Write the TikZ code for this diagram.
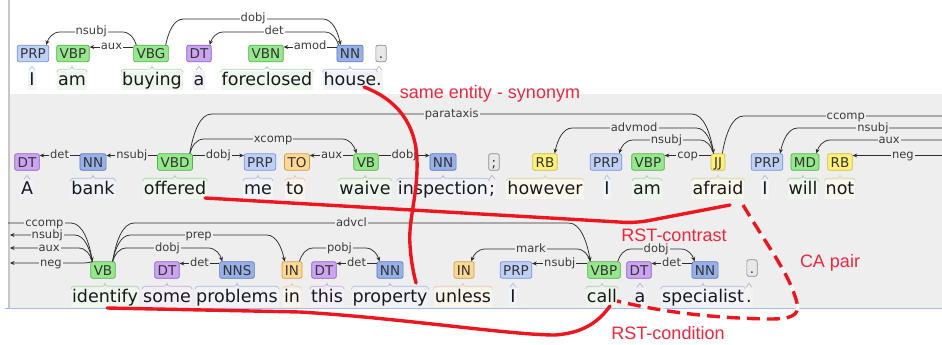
\documentclass[tikz,border=0pt]{standalone}
\usepackage{fontspec}
\setmainfont{DejaVu Sans}
\newfontfamily\annfont{Liberation Sans}
\usetikzlibrary{arrows.meta,calc}
\definecolor{bggray}{RGB}{238,238,238}
\definecolor{bluel}{RGB}{165,188,238}
\definecolor{arcc}{RGB}{45,45,45}
\definecolor{labc}{RGB}{60,60,60}
\definecolor{redl}{RGB}{238,22,30}
\definecolor{redt}{RGB}{236,40,62}
\definecolor{cBf}{RGB}{190,208,246}\definecolor{cBd}{RGB}{120,150,215}
\definecolor{cNf}{RGB}{150,176,232}\definecolor{cNd}{RGB}{95,120,195}
\definecolor{cGf}{RGB}{150,232,140}\definecolor{cGd}{RGB}{85,175,75}
\definecolor{cPf}{RGB}{204,164,242}\definecolor{cPd}{RGB}{140,95,195}
\definecolor{cOf}{RGB}{255,216,150}\definecolor{cOd}{RGB}{210,155,70}
\definecolor{cYf}{RGB}{255,240,120}\definecolor{cYd}{RGB}{200,190,80}
\definecolor{cKf}{RGB}{232,232,232}\definecolor{cKd}{RGB}{140,140,140}
\tikzset{
  tagbox/.style 2 args={draw=#2, fill=#1, rounded corners=2pt, line width=0.7pt,
    font=\fontsize{13.5}{14}\selectfont, text=black!80, inner xsep=3pt, inner ysep=0pt,
    minimum height=16.5pt, text height=10pt, text depth=0pt},
  tagB/.style={tagbox={cBf}{cBd}}, tagN/.style={tagbox={cNf}{cNd}},
  tagG/.style={tagbox={cGf}{cGd}}, tagP/.style={tagbox={cPf}{cPd}},
  tagO/.style={tagbox={cOf}{cOd}}, tagY/.style={tagbox={cYf}{cYd}},
  tagK/.style={tagbox={cKf}{cKd}},
  wordbox/.style={font=\fontsize{17.5}{20}\selectfont, anchor=base, inner xsep=1pt,
    inner ysep=1pt, text height=13pt, text depth=4pt, text=black!90, fill=#1!10!white},
  lab/.style={font=\fontsize{11.5}{12}\selectfont, text=labc, inner xsep=1pt, inner ysep=0pt,
    fill=#1, text height=8.5pt, text depth=2.5pt},
  lab/.default=white,
  arcl/.style={draw=arcc, line width=0.75pt, -{Stealth[length=4.5pt,width=4pt]}},
  redline/.style={draw=redl, line width=3.4pt, line cap=round},
  redtext/.style={font=\annfont\fontsize{18}{20}\selectfont, text=redt, inner sep=0pt},
}
\newcommand\harc[5][white]{%
  \draw[arcl] let \p1=(#2), \p2=(#3), \n3={sign(\x2-\x1)},
     \n1={\n3*(10+0.3*abs(\y1+#4pt))}, \n2={\n3*(10+0.3*abs(\y2+#4pt))} in
   (\p1) .. controls (\x1+0.15*\n1*1pt, 0.5*\y1-0.5*#4pt) and (\x1+0.45*\n1*1pt,-#4pt) ..
   (\x1+\n1*1pt,-#4pt) -- node[lab=#1]{#5}
   (\x2-\n2*1pt,-#4pt) .. controls (\x2-0.45*\n2*1pt,-#4pt) and (\x2-0.15*\n2*1pt, 0.5*\y2-0.5*#4pt) .. (\p2);}
\newcommand\sarcL[4][white]{\draw[arcl] ([yshift=6.5pt]#2.west) -- node[lab=#1]{#4} ([yshift=6.5pt]#3.east);}
\newcommand\sarcR[4][white]{\draw[arcl] ([yshift=6.5pt]#2.east) -- node[lab=#1]{#4} ([yshift=6.5pt]#3.west);}
\newcommand\brk[2]{\draw[#2, line width=0.7pt] ([yshift=-1.5pt]#1.north west) to[out=90,in=180]
  ([xshift=3pt,yshift=1.5pt]#1.north west) -- ([xshift=-3pt,yshift=1.5pt]#1.north)
  to[out=0,in=-90] ([yshift=4.5pt]#1.north) to[out=-90,in=180] ([xshift=3pt,yshift=1.5pt]#1.north)
  -- ([xshift=-3pt,yshift=1.5pt]#1.north east) to[out=0,in=90] ([yshift=-1.5pt]#1.north east);}
\newcommand\brs[2]{\draw[#2, line width=0.7pt] ([xshift=-3pt,yshift=0.5pt]#1.north)
  to[out=90,in=-90] ([yshift=4.5pt]#1.north) to[out=-90,in=90] ([xshift=3pt,yshift=0.5pt]#1.north);}
\begin{document}
\begin{tikzpicture}[x=1pt,y=-1pt]
\useasboundingbox (0,0) rectangle (942,345);
\clip (0,0) rectangle (942,345);
\fill[white] (0,0) rectangle (942,345);
\fill[bggray] (9,94) rectangle (942,308);
\draw[black!22, line width=1.5pt] (9,0) -- (9,308);
\draw[bluel, line width=1.5pt] (5,308.5) -- (942,308.5);
% ---------- row 1 words
\node[wordbox=cBd] (w1a) at (32,85) {I};
\node[wordbox=cGd] (w1b) at (72,85) {am};
\node[wordbox=cGd] (w1c) at (152,85) {buying};
\node[wordbox=cPd] (w1d) at (199,85) {a};
\node[wordbox=cGd] (w1e) at (267,85) {foreclosed};
\node[wordbox=cNd] (w1f) at (350,85) {house};
\node[wordbox=cKd] (w1g) at (379,85) {.};
\brs{w1a}{cBd!60!white}\brk{w1b}{cGd!50!white}\brk{w1c}{cGd!50!white}\brs{w1d}{cPd!50!white}
\brk{w1e}{cGd!50!white}\brk{w1f}{cNd!50!white}\brs{w1g}{cKd!60!white}
% ---------- row 1 tags
\node[tagB] (t1a) at (33,53.5) {PRP};
\node[tagG] (t1b) at (73,53.5) {VBP};
\node[tagG] (t1c) at (151,53.5) {VBG};
\node[tagP] (t1d) at (199,53.5) {DT};
\node[tagG] (t1e) at (266,53.5) {VBN};
\node[tagN] (t1f) at (350,53.5) {NN};
\node[tagK] (t1g) at (381,53.5) {.};
% ---------- row 2 words
\node[wordbox=cPd] (w2a) at (27,194) {A};
\node[wordbox=cNd] (w2b) at (93,194) {bank};
\node[wordbox=cGd] (w2c) at (175,194) {offered};
\node[wordbox=cBd] (w2d) at (258,194) {me};
\node[wordbox=cOd] (w2e) at (295,194) {to};
\node[wordbox=cGd] (w2f) at (365,194) {waive};
\node[wordbox=cNd] (w2g) at (443,194) {inspection};
\node[wordbox=cKd] (w2h) at (492,194) {;};
\node[wordbox=cYd] (w2i) at (545,194) {however};
\node[wordbox=cBd] (w2j) at (607,194) {I};
\node[wordbox=cGd] (w2k) at (647,194) {am};
\node[wordbox=cYd] (w2l) at (718,194) {afraid};
\node[wordbox=cBd] (w2m) at (765,194) {I};
\node[wordbox=cGd] (w2n) at (803,194) {will};
\node[wordbox=cYd] (w2o) at (840,194) {not};
\brs{w2a}{cPd!50!white}\brk{w2b}{cNd!50!white}\brk{w2c}{cGd!50!white}\brk{w2d}{cBd!60!white}
\brk{w2e}{cOd!50!white}\brk{w2f}{cGd!50!white}\brk{w2g}{cNd!50!white}\brs{w2h}{cKd!60!white}
\brk{w2i}{cYd!60!white}\brs{w2j}{cBd!60!white}\brk{w2k}{cGd!50!white}\brk{w2l}{cYd!60!white}
\brs{w2m}{cBd!60!white}\brk{w2n}{cGd!50!white}\brk{w2o}{cYd!60!white}
% ---------- row 2 tags
\node[tagP] (t2a) at (27,162) {DT};
\node[tagN] (t2b) at (93,162) {NN};
\node[tagG] (t2c) at (175,162) {VBD};
\node[tagB] (t2d) at (260,162) {PRP};
\node[tagO] (t2e) at (297,162) {TO};
\node[tagG] (t2f) at (366,162) {VB};
\node[tagN] (t2g) at (443,162) {NN};
\node[tagK] (t2h) at (494,162) {;};
\node[tagY] (t2i) at (545,162) {RB};
\node[tagB] (t2j) at (606,162) {PRP};
\node[tagG] (t2k) at (648,162) {VBP};
\node[tagY] (t2l) at (718,162) {JJ};
\node[tagB] (t2m) at (767,162) {PRP};
\node[tagG] (t2n) at (805,162) {MD};
\node[tagY] (t2o) at (840,162) {RB};
% ---------- row 3 words
\node[wordbox=cGd] (w3a) at (105,302) {identify};
\node[wordbox=cPd] (w3b) at (167,302) {some};
\node[wordbox=cNd] (w3c) at (237,302) {problems};
\node[wordbox=cOd] (w3d) at (292,302) {in};
\node[wordbox=cPd] (w3e) at (327,302) {this};
\node[wordbox=cNd] (w3f) at (390,302) {property};
\node[wordbox=cOd] (w3g) at (463,302) {unless};
\node[wordbox=cBd] (w3h) at (513,302) {I};
\node[wordbox=cGd] (w3i) at (602,302) {call};
\node[wordbox=cPd] (w3j) at (640,302) {a};
\node[wordbox=cNd] (w3k) at (703,302) {specialist};
\node[wordbox=cKd] (w3l) at (749,302) {.};
\brk{w3a}{cGd!50!white}\brk{w3b}{cPd!50!white}\brk{w3c}{cNd!50!white}\brk{w3d}{cOd!50!white}
\brk{w3e}{cPd!50!white}\brk{w3f}{cNd!50!white}\brk{w3g}{cOd!50!white}\brs{w3h}{cBd!60!white}
\brk{w3i}{cGd!50!white}\brs{w3j}{cPd!50!white}\brk{w3k}{cNd!50!white}\brs{w3l}{cKd!60!white}
% ---------- row 3 tags
\node[tagG] (t3a) at (103,270) {VB};
\node[tagP] (t3b) at (167,270) {DT};
\node[tagN] (t3c) at (237,270) {NNS};
\node[tagO] (t3d) at (292,270) {IN};
\node[tagP] (t3e) at (324,270) {DT};
\node[tagN] (t3f) at (390,270) {NN};
\node[tagO] (t3g) at (464,270) {IN};
\node[tagB] (t3h) at (516,270) {PRP};
\node[tagG] (t3i) at (604,270) {VBP};
\node[tagP] (t3j) at (639,270) {DT};
\node[tagN] (t3k) at (705,270) {NN};
\node[tagK] (t3l) at (752,268) {.};
% ---------- edge coordinates
\coordinate (eA) at (958,116);
\coordinate (eB) at (958,128);
\coordinate (eC) at (958,140);
\coordinate (eD) at (953,155.5);
\coordinate (eE) at (8,223);
\coordinate (eF) at (10,235);
\coordinate (eG) at (10,248);
\coordinate (eH) at (10,263);
% ---------- row 1 arcs
\harc{[xshift=3pt]t1c.north west}{[xshift=-3pt]t1a.north east}{32}{nsubj}
\harc{[xshift=-3pt]t1c.north east}{[xshift=4pt]t1f.north west}{19}{dobj}
\harc{[xshift=2pt]t1f.north west}{[xshift=-2pt]t1d.north east}{32}{det}
\sarcL{t1c}{t1b}{aux}
\sarcL{t1f}{t1e}{amod}
% ---------- row 2 arcs
\sarcL[bggray]{t2b}{t2a}{det}
\sarcL[bggray]{t2c}{t2b}{nsubj}
\sarcR[bggray]{t2c}{t2d}{dobj}
\harc[bggray]{[xshift=-3pt]t2c.north east}{[xshift=3pt]t2f.north west}{139}{xcomp}
\harc[bggray]{[xshift=-3pt]t2c.north east}{[xshift=3pt]t2l.north west}{114}{parataxis}
\sarcL[bggray]{t2f}{t2e}{aux}
\sarcR[bggray]{t2f}{t2g}{dobj}
\harc[bggray]{[xshift=3pt]t2l.north west}{[xshift=-3pt]t2i.north east}{128}{advmod}
\harc[bggray]{[xshift=3pt]t2l.north west}{[xshift=-3pt]t2j.north east}{140}{nsubj}
\sarcL[bggray]{t2l}{t2k}{cop}
\harc[bggray]{[xshift=-3pt]t2l.north east}{eA}{116}{ccomp}
\harc[bggray]{eB}{[xshift=-3pt]t2m.north east}{128}{nsubj}
\harc[bggray]{eC}{[xshift=-3pt]t2n.north east}{140}{aux}
\draw[arcl] (eD) -- node[lab=bggray]{neg} ([yshift=6.5pt]t2o.east);
% ---------- row 3 arcs
\harc[bggray]{eE}{[xshift=2pt]t3a.north west}{223}{ccomp}
\harc[bggray]{[xshift=2pt]t3a.north west}{eF}{235}{nsubj}
\harc[bggray]{[xshift=2pt]t3a.north west}{eG}{248}{aux}
\harc[bggray]{[xshift=2pt]t3a.north west}{eH}{263}{neg}
\harc[bggray]{[xshift=-3pt]t3a.north east}{[xshift=3pt]t3i.north west}{223}{advcl}
\harc[bggray]{[xshift=-3pt]t3a.north east}{[xshift=3pt]t3d.north west}{235}{prep}
\harc[bggray]{[xshift=-3pt]t3a.north east}{[xshift=3pt]t3c.north west}{248}{dobj}
\sarcL[bggray]{t3c}{t3b}{det}
\harc[bggray]{[xshift=-3pt]t3d.north east}{[xshift=3pt]t3f.north west}{248}{pobj}
\sarcL[bggray]{t3f}{t3e}{det}
\harc[bggray]{[xshift=3pt]t3i.north west}{[xshift=-3pt]t3g.north east}{249}{mark}
\sarcL[bggray]{t3i}{t3h}{nsubj}
\harc[bggray]{[xshift=-3pt]t3i.north east}{[xshift=3pt]t3k.north west}{249}{dobj}
\sarcL[bggray]{t3k}{t3j}{det}
% ---------- red annotations
\coordinate (sA) at (364,87);
\coordinate (sB) at (416,283);
\draw[redline] (sA) .. controls (398,100) and (416,125) .. (417,160)
  .. controls (418,195) and (408,220) .. (410,245) .. controls (411,262) and (414,275) .. (sB);
\coordinate (cA) at (205,198);
\coordinate (cB) at (730,205);
\draw[redline, rounded corners=12pt] (cA) -- (636,223) -- (cB);
\coordinate (dA) at (107,308);
\coordinate (dB) at (610,306);
\draw[redline] (dA) -- (300,312) .. controls (400,318) and (510,335) .. (555,335)
  .. controls (585,333) and (600,320) .. (dB);
\coordinate (pA) at (743,205);
\coordinate (pB) at (617,301);
\draw[white, line width=3.4pt] (pA) .. controls (770,250) and (790,275) .. (797,303)
  .. controls (800,316) and (790,319) .. (770,319) .. controls (700,318) and (650,309) .. (pB);
\draw[redline, line cap=butt, dash pattern=on 13pt off 7pt] (pA) .. controls (770,250) and (790,275) .. (797,303)
  .. controls (800,316) and (790,319) .. (770,319) .. controls (700,318) and (650,309) .. (pB);
\node[redtext] (tS) at (490,94) {same entity - synonym};
\node[redtext] (tC) at (674,235) {RST-contrast};
\node[redtext] (tD) at (668,333) {RST-condition};
\node[redtext] (tP) at (830,263) {CA pair};
\end{tikzpicture}
\end{document}
